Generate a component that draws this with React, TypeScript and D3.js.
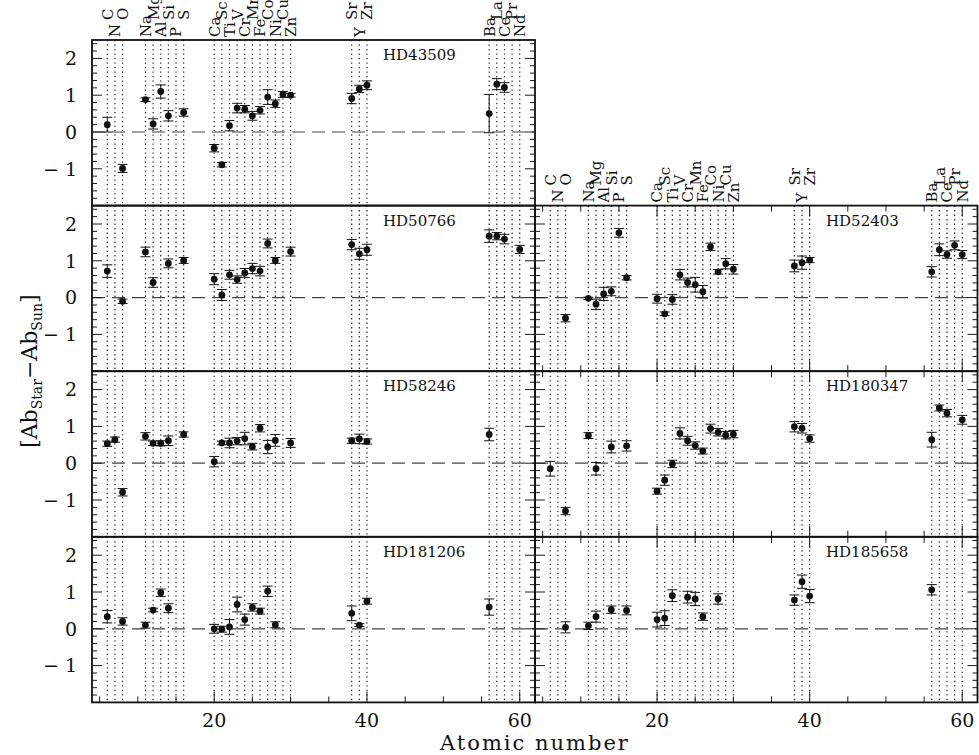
import React from 'react';
import * as d3 from 'd3';

// elements marked with dotted guide lines
const elementZ = [6, 7, 8, 11, 12, 13, 14, 15, 16, 20, 21, 22, 23, 24, 25, 26, 27, 28, 29, 30, 38, 39, 40, 56, 57, 58, 59, 60];
const elementSymbols = ['C', 'N', 'O', 'Na', 'Mg', 'Al', 'Si', 'P', 'S', 'Ca', 'Sc', 'Ti', 'V', 'Cr', 'Mn', 'Fe', 'Co', 'Ni', 'Cu', 'Zn', 'Sr', 'Y', 'Zr', 'Ba', 'La', 'Ce', 'Pr', 'Nd'];
// 1 = label raised, 0 = label next to the frame
const elementTier = [1, 0, 1, 0, 1, 0, 1, 0, 1, 0, 1, 0, 1, 0, 1, 0, 1, 0, 1, 0, 1, 0, 1, 0, 1, 0, 1, 0];

// [Z, abundance, error]
type Pt = [number, number, number];

const hd43509: Pt[] = [
  [6, 0.2, 0.2], [8, -0.99, 0.11], [11, 0.88, 0.05], [12, 0.22, 0.14], [13, 1.1, 0.18], [14, 0.44, 0.14],
  [16, 0.53, 0.1], [20, -0.44, 0.1], [21, -0.89, 0.06], [22, 0.17, 0.14], [23, 0.65, 0.13], [24, 0.62, 0.1],
  [25, 0.44, 0.12], [26, 0.59, 0.1], [27, 0.95, 0.2], [28, 0.77, 0.1], [29, 1.02, 0.08], [30, 1.0, 0.05],
  [38, 0.91, 0.14], [39, 1.17, 0.1], [40, 1.27, 0.12], [56, 0.5, 0.52], [57, 1.3, 0.15], [58, 1.21, 0.13],
];
const hd50766: Pt[] = [
  [6, 0.72, 0.17], [8, -0.1, 0.06], [11, 1.24, 0.13], [12, 0.41, 0.13], [14, 0.93, 0.12], [16, 1.01, 0.08],
  [20, 0.5, 0.15], [21, 0.07, 0.15], [22, 0.62, 0.12], [23, 0.49, 0.1], [24, 0.67, 0.12], [25, 0.79, 0.14],
  [26, 0.72, 0.13], [27, 1.47, 0.12], [28, 1.01, 0.08], [30, 1.25, 0.12], [38, 1.44, 0.14], [39, 1.19, 0.15],
  [40, 1.3, 0.15], [56, 1.67, 0.17], [57, 1.67, 0.1], [58, 1.59, 0.13], [60, 1.31, 0.11],
];
const hd58246: Pt[] = [
  [6, 0.53, 0.07], [7, 0.64, 0.07], [8, -0.79, 0.1], [11, 0.73, 0.1], [12, 0.54, 0.06], [13, 0.54, 0.07],
  [14, 0.61, 0.13], [16, 0.78, 0.07], [20, 0.04, 0.14], [21, 0.55, 0.05], [22, 0.55, 0.13], [23, 0.6, 0.1],
  [24, 0.67, 0.17], [25, 0.45, 0.09], [26, 0.95, 0.1], [27, 0.44, 0.18], [28, 0.62, 0.16], [30, 0.55, 0.12],
  [38, 0.61, 0.07], [39, 0.66, 0.13], [40, 0.59, 0.07], [56, 0.78, 0.17],
];
const hd181206: Pt[] = [
  [6, 0.33, 0.17], [8, 0.2, 0.1], [11, 0.1, 0.08], [12, 0.51, 0.05], [13, 0.98, 0.1], [14, 0.56, 0.12],
  [20, 0.0, 0.12], [21, -0.01, 0.08], [22, 0.05, 0.2], [23, 0.66, 0.2], [24, 0.25, 0.15], [25, 0.58, 0.1],
  [26, 0.48, 0.08], [27, 1.02, 0.14], [28, 0.11, 0.08], [38, 0.42, 0.2], [39, 0.1, 0.04], [40, 0.75, 0.08],
  [56, 0.59, 0.22],
];
const hd52403: Pt[] = [
  [8, -0.56, 0.1], [11, -0.02, 0.03], [12, -0.18, 0.14], [13, 0.1, 0.18], [14, 0.17, 0.12], [15, 1.76, 0.12],
  [16, 0.54, 0.06], [20, -0.03, 0.12], [21, -0.44, 0.05], [22, -0.05, 0.13], [23, 0.62, 0.14], [24, 0.41, 0.12],
  [25, 0.35, 0.2], [26, 0.16, 0.17], [27, 1.38, 0.1], [28, 0.7, 0.06], [29, 0.92, 0.14], [30, 0.77, 0.13],
  [38, 0.86, 0.16], [39, 0.95, 0.18], [40, 1.02, 0.07], [56, 0.7, 0.14], [57, 1.3, 0.16], [58, 1.17, 0.1],
  [59, 1.42, 0.12], [60, 1.17, 0.11],
];
const hd180347: Pt[] = [
  [6, -0.15, 0.2], [8, -1.3, 0.1], [11, 0.75, 0.08], [12, -0.15, 0.17], [14, 0.44, 0.16], [16, 0.47, 0.14],
  [20, -0.76, 0.08], [21, -0.46, 0.14], [22, -0.02, 0.1], [23, 0.81, 0.15], [24, 0.61, 0.12], [25, 0.48, 0.1],
  [26, 0.33, 0.08], [27, 0.94, 0.12], [28, 0.84, 0.1], [29, 0.76, 0.1], [30, 0.79, 0.1], [38, 0.99, 0.14],
  [39, 0.95, 0.13], [40, 0.67, 0.1], [56, 0.64, 0.2], [57, 1.5, 0.08], [58, 1.36, 0.1], [60, 1.18, 0.12],
];
const hd185658: Pt[] = [
  [8, 0.04, 0.15], [11, 0.08, 0.1], [12, 0.33, 0.15], [14, 0.52, 0.1], [16, 0.5, 0.12], [20, 0.25, 0.2],
  [21, 0.29, 0.2], [22, 0.9, 0.16], [24, 0.86, 0.16], [25, 0.81, 0.18], [26, 0.33, 0.1], [28, 0.81, 0.14],
  [38, 0.78, 0.14], [39, 1.28, 0.18], [40, 0.89, 0.18], [56, 1.06, 0.14],
];

const starNames = ['HD43509', 'HD50766', 'HD58246', 'HD181206', 'HD52403', 'HD180347', 'HD185658'];
const starColumn = [0, 0, 0, 0, 1, 1, 1];
const starRow = [0, 1, 2, 3, 1, 2, 3];
const starData = [hd43509, hd50766, hd58246, hd181206, hd52403, hd180347, hd185658];

const xLabels = [20, 40, 60];
const yLabels = [-1, 0, 1, 2];

const W = 979;
const H = 755;
const colEdges = [92, 535, 977.5];
const rowEdges = [40, 205.6, 371.2, 536.8, 702.4];
const FONT = '"DejaVu Serif", serif';
const INK = '#1a1a1a';

export default function App() {
  const xs = [0, 1].map(c => d3.scaleLinear().domain([4, 62]).range([colEdges[c], colEdges[c + 1]]));
  const ys = [0, 1, 2, 3].map(r => d3.scaleLinear().domain([-2, 2.5]).range([rowEdges[r + 1], rowEdges[r]]));

  const panels = starNames.map((name, i) => ({
    name, col: starColumn[i], row: starRow[i], data: starData[i],
  }));

  const yMajor = ys[0].ticks(5);
  const yMinor = ys[0].ticks(25);
  const xMinor = xs[0].ticks(12);
  const xMajor = xs[0].ticks(3);

  return (
    <svg width={W} height={H} style={{ position: 'absolute', left: 0, top: 0, background: '#fff' }}
      fontFamily={FONT}>
      <rect width={W} height={H} fill="#fff" />
      {panels.map(p => {
        const x = xs[p.col];
        const y = ys[p.row];
        const [x0, x1] = x.range();
        const [yb, yt] = y.range();
        const lastRow = p.row === 3;
        const xTicksTop = p.col === 1;
        const xTicksBottom = p.col === 1 || lastRow;
        return (
          <g key={p.name}>
            {/* element guide lines */}
            {elementZ.map(z => (
              <line key={z} x1={x(z)} x2={x(z)} y1={yt} y2={yb} stroke="#222" strokeWidth={1.2}
                strokeDasharray="1.3 3.2" />
            ))}
            {/* solar level */}
            <line x1={x0} x2={x1} y1={y(0)} y2={y(0)} stroke="#444" strokeWidth={1.2} strokeDasharray="13 7" />
            {/* y ticks */}
            {yMinor.map(v => {
              const len = yMajor.includes(v) ? 10 : 5;
              return (
                <g key={'y' + v}>
                  <line x1={x0} x2={x0 + len} y1={y(v)} y2={y(v)} stroke={INK} strokeWidth={1} />
                  <line x1={x1} x2={x1 - len} y1={y(v)} y2={y(v)} stroke={INK} strokeWidth={1} />
                </g>
              );
            })}
            {/* x ticks */}
            {xMinor.map(v => {
              const len = xMajor.includes(v) ? 11 : 6;
              return (
                <g key={'x' + v}>
                  {xTicksTop && <line x1={x(v)} x2={x(v)} y1={yt} y2={yt + len} stroke={INK} strokeWidth={1} />}
                  {xTicksBottom && <line x1={x(v)} x2={x(v)} y1={yb} y2={yb - len} stroke={INK} strokeWidth={1} />}
                </g>
              );
            })}
            <rect x={x0} y={yt} width={x1 - x0} height={yb - yt} fill="none" stroke="#111" strokeWidth={1.8} />
            <text x={x0 + 291} y={yt + 20} fontSize={15} fill="#111">{p.name}</text>
            {/* abundances with error bars */}
            {p.data.map(([z, v, e]) => (
              <g key={'p' + z}>
                <line x1={x(z)} x2={x(z)} y1={y(v - e)} y2={y(v + e)} stroke="#111" strokeWidth={1} />
                <line x1={x(z) - 5} x2={x(z) + 5} y1={y(v - e)} y2={y(v - e)} stroke="#111" strokeWidth={1} />
                <line x1={x(z) - 5} x2={x(z) + 5} y1={y(v + e)} y2={y(v + e)} stroke="#111" strokeWidth={1} />
                <circle cx={x(z)} cy={y(v)} r={3.4} fill="#111" />
              </g>
            ))}
            {/* y tick labels, left column only */}
            {p.col === 0 && yLabels.map(v => (
              <text key={'yl' + v} x={77} y={y(v)} dy="0.36em" textAnchor="end" fontSize={19} fill="#111">
                {v < 0 ? '\u2212 ' + Math.abs(v) : v}
              </text>
            ))}
            {lastRow && xLabels.map(v => (
              <text key={'xl' + v} x={x(v)} y={yb + 25} textAnchor="middle" fontSize={19} fill="#111">{v}</text>
            ))}
          </g>
        );
      })}
      {/* element symbols above the first panel of each column */}
      {[0, 1].map(c => {
        const x = xs[c];
        const top = rowEdges[c === 0 ? 0 : 1];
        return (
          <g key={'lab' + c}>
            {elementZ.map((z, i) => (
              <text key={z} transform={`translate(${x(z)},${top - (elementTier[i] ? 20 : 3)}) rotate(-90)`}
                dy="0.36em" fontSize={15} fill="#111">{elementSymbols[i]}</text>
            ))}
          </g>
        );
      })}
      <text x={535} y={750} textAnchor="middle" fontSize={21} letterSpacing={2} fill="#111">Atomic number</text>
      <text transform={`translate(37,${(rowEdges[0] + rowEdges[4]) / 2}) rotate(-90)`} textAnchor="middle"
        fontSize={22} fill="#111">
        [Ab<tspan fontSize={14} dy={5}>Star</tspan><tspan dy={-5}>{'\u2212'}Ab</tspan><tspan fontSize={14} dy={5}>Sun</tspan><tspan dy={-5}>]</tspan>
      </text>
    </svg>
  );
}
